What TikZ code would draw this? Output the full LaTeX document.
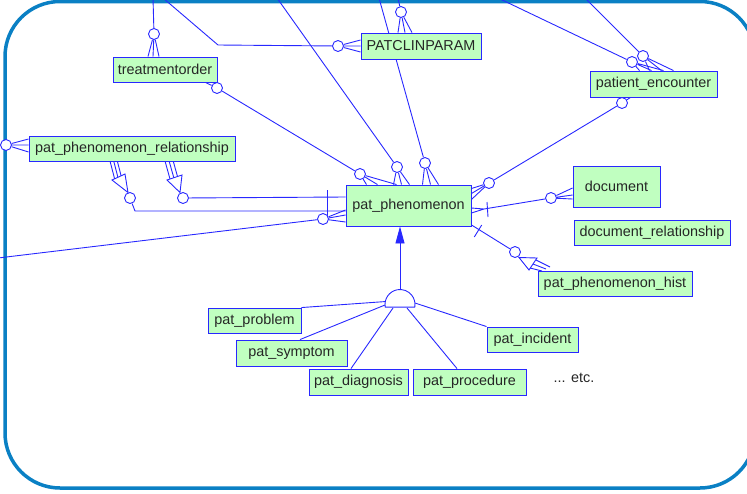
\documentclass[tikz,border=0pt]{standalone}
\usepackage{fontspec}
\setmainfont{Liberation Sans}
\usetikzlibrary{arrows.meta,backgrounds}
\definecolor{erblue}{RGB}{40,40,255}
\definecolor{erfill}{RGB}{192,255,192}
\definecolor{frameblue}{RGB}{10,128,196}
\tikzset{
  entity/.style={draw=erblue,line width=0.9pt,fill=erfill,inner sep=2pt,
    font=\fontsize{14.4}{17}\selectfont,text=black!85},
  ring/.style={circle,draw=erblue,line width=0.9pt,fill=white,inner sep=0pt,minimum size=11pt},
  conn/.style={draw=erblue,line width=0.9pt},
}
\begin{document}
\begin{tikzpicture}[x=1pt,y=-1pt]
  \useasboundingbox (0,0) rectangle (747,493);
  % entities
  \node[entity,minimum width=104pt,minimum height=25pt] (treat) at (165,69.5) {treatmentorder};
  \node[entity,minimum width=120pt,minimum height=26pt] (clin) at (421,46) {PATCLINPARAM};
  \node[entity,minimum width=127pt,minimum height=26pt] (enc) at (653.5,84) {patient\_encounter};
  \node[entity,minimum width=206pt,minimum height=25pt] (rel) at (132,148.5) {pat\_phenomenon\_relationship};
  \node[entity,minimum width=125pt,minimum height=41pt] (phen) at (408.5,205.5) {pat\_phenomenon};
  \node[entity,minimum width=87pt,minimum height=41pt] (doc) at (616.5,186.5) {document};
  \node[entity,minimum width=156pt,minimum height=25pt] (docrel) at (652,232.5) {document\_relationship};
  \node[entity,minimum width=154pt,minimum height=25pt] (hist) at (615,283.5) {pat\_phenomenon\_hist};
  \node[entity,minimum width=93pt,minimum height=25pt] (prob) at (254.5,320.5) {pat\_problem};
  \node[entity,minimum width=111pt,minimum height=26pt] (symp) at (291.5,353) {pat\_symptom};
  \node[entity,minimum width=99pt,minimum height=26pt] (diag) at (358.5,382) {pat\_diagnosis};
  \node[entity,minimum width=113pt,minimum height=26pt] (proc) at (469.5,382) {pat\_procedure};
  \node[entity,minimum width=91pt,minimum height=25pt] (inc) at (532.5,339.5) {pat\_incident};
  \node[font=\fontsize{14.4}{17}\selectfont,text=black!85] (etc) at (574,378) {... etc.};

  % optional ends
  \node[ring] (c1) at (154,34) {};
  \node[ring] (c2) at (338,46) {};
  \node[ring] (c3) at (401,12) {};
  \node[ring] (c4) at (397,167) {};
  \node[ring] (c5) at (425,163) {};
  \node[ring] (c6) at (360,174) {};
  \node[ring] (c7) at (217,88) {};
  \node[ring] (c8) at (632,62) {};
  \node[ring] (c9) at (643,56) {};
  \node[ring] (c10) at (622,103) {};
  \node[ring] (c11) at (489,183) {};
  \node[ring] (c12) at (551,198) {};
  \node[ring] (c13) at (515,252) {};
  \node[ring] (c14) at (130,198) {};
  \node[ring] (c15) at (183,198) {};
  \node[ring] (c16) at (323,219) {};
  \node[ring] (c17) at (6,145) {};

  \coordinate (t1) at (153,-2);
  \coordinate (t2) at (163,-2);
  \coordinate (b2) at (218,45);
  \coordinate (t3) at (398,-2);
  \coordinate (t4) at (277,-2);
  \coordinate (t5) at (379,-2);
  \coordinate (t6) at (498,-2);
  \coordinate (t7) at (585,-2);
  \coordinate (t8) at (-2,258);
  \coordinate (p1) at (484,209);
  \coordinate (b14) at (135,211);
  \coordinate (isa) at (400,304.5);

  \begin{pgfonlayer}{background}
    \draw[frameblue,line width=3.5pt,rounded corners=55pt] (5,1.5) rectangle (755,488);
    % relationships
    \draw[conn] (t1) -- (c1);
    \draw[conn] (c1) -- ([xshift=-17pt]treat.north) (c1) -- ([xshift=-12pt]treat.north) (c1) -- ([xshift=-6pt]treat.north);
    \draw[conn] (t2) -- (b2) -- (c2);
    \draw[conn] (c2) -- ([yshift=6pt]clin.west) (c2) -- (clin.west) (c2) -- ([yshift=-6pt]clin.west);
    \draw[conn] (t3) -- (c3);
    \draw[conn] (c3) -- ([xshift=-23pt]clin.north) (c3) -- ([xshift=-16pt]clin.north) (c3) -- ([xshift=-9pt]clin.north);
    \draw[conn] (t4) -- (c4);
    \draw[conn] (c4) -- ([xshift=-15pt]phen.north) (c4) -- ([xshift=-7pt]phen.north) (c4) -- ([xshift=1pt]phen.north);
    \draw[conn] (t5) -- (c5);
    \draw[conn] (c5) -- ([xshift=14pt]phen.north) (c5) -- ([xshift=22pt]phen.north) (c5) -- ([xshift=30pt]phen.north);
    \draw[conn] ([xshift=-12pt]treat.south east) -- (c7) -- (c6);
    \draw[conn] (c6) -- ([xshift=-42pt]phen.north) (c6) -- ([xshift=-31pt]phen.north) (c6) -- ([xshift=-12pt]phen.north);
    \draw[conn] (t6) -- (c8);
    \draw[conn] (c8) -- ([xshift=-14pt]enc.north) (c8) -- ([xshift=-2pt]enc.north) (c8) -- ([xshift=10pt]enc.north);
    \draw[conn] (t7) -- (c9);
    \draw[conn] (c9) -- ([xshift=-4pt]enc.north) (c9) -- ([xshift=8pt]enc.north) (c9) -- ([xshift=20pt]enc.north);
    \draw[conn] ([xshift=-23pt]enc.south) -- (c10) -- (c11);
    \draw[conn] (c11) -- ([yshift=17pt]phen.east) (c11) -- ([yshift=12pt]phen.east) (c11) -- ([yshift=6pt]phen.east);
    \draw[conn] ([yshift=-2.5pt]phen.east) -- (p1) ([yshift=-7.5pt]phen.east) -- (p1) -- (c12);
    \draw[conn] ([shift={(3,-7)}]p1) -- ([shift={(4,8)}]p1);
    \draw[conn] (c12) -- ([yshift=-1.5pt]doc.west) (c12) -- ([yshift=-8.5pt]doc.west) (c12) -- ([yshift=-12.5pt]doc.west);
    % history
    \draw[conn] ([yshift=1.5pt]phen.south east) -- (c13);
    \draw[conn] ([shift={(-40.7,-15)}]c13.center) -- ([shift={(-33.3,-27)}]c13.center);
    \draw[conn] ([shift={(4,5.5)}]c13.center) -- ([shift={(14,18)}]c13.center) -- ([shift={(22,6)}]c13.center) -- cycle;
    \draw[conn] ([shift={(15,16)}]c13.center) -- ([shift={(27,19)}]c13.center)
                ([shift={(18,12)}]c13.center) -- ([shift={(31,17)}]c13.center)
                ([shift={(21,8)}]c13.center) -- ([shift={(35,15)}]c13.center);
    % relationship to itself
    \draw[conn] (c14) -- (b14) -- ([yshift=-5.5pt]phen.west);
    \draw[conn] (c15) -- ([yshift=8.5pt]phen.west);
    \draw[conn] ([xshift=-18pt,yshift=15.5pt]phen.west) -- ([xshift=-18pt,yshift=-12.5pt]phen.west);
    \draw[conn] ([shift={(-2,-5.5)}]c14.center) -- ([shift={(-18,-18)}]c14.center) -- ([shift={(-5,-24)}]c14.center) -- cycle;
    \draw[conn] ([shift={(-20,-37)}]c14.center) -- ([shift={(-15.4,-19.2)}]c14.center)
                ([shift={(-16.3,-37)}]c14.center) -- ([shift={(-12.1,-20.7)}]c14.center)
                ([shift={(-12.7,-37)}]c14.center) -- ([shift={(-8.9,-22.2)}]c14.center);
    \draw[conn] ([shift={(-3,-5.5)}]c15.center) -- ([shift={(-16,-18)}]c15.center) -- ([shift={(-1,-23)}]c15.center) -- cycle;
    \draw[conn] ([shift={(-18,-37)}]c15.center) -- ([shift={(-13,-19)}]c15.center)
                ([shift={(-13.9,-37)}]c15.center) -- ([shift={(-9.2,-20.3)}]c15.center)
                ([shift={(-9.8,-37)}]c15.center) -- ([shift={(-5.5,-21.5)}]c15.center);
    \draw[conn] (t8) -- (c16);
    \draw[conn] (c16) -- ([yshift=-4.5pt]phen.west) (c16) -- ([yshift=-9.5pt]phen.west) (c16) -- ([yshift=-16.5pt]phen.west);
    \draw[conn] (c17) -- ([yshift=9.5pt]rel.west) (c17) -- ([yshift=3.5pt]rel.west) (c17) -- ([yshift=-3.5pt]rel.west);
    % subtypes
    \draw[conn,-{Triangle[length=17pt,width=9pt]}] ([shift={(0,-15)}]isa) -- ([xshift=-8.5pt]phen.south);
    \draw[conn] (prob.north east) -- ([shift={(-14,-3)}]isa);
    \draw[conn] ([xshift=8.5pt]symp.north) -- ([shift={(-15,0.5)}]isa);
    \draw[conn] ([xshift=-7.5pt]diag.north) -- ([shift={(-7,3.5)}]isa);
    \draw[conn] ([xshift=-12.5pt]proc.north) -- ([shift={(7,3.5)}]isa);
    \draw[conn] (inc.north west) -- ([shift={(15,-1.5)}]isa);
  \end{pgfonlayer}
  \draw[conn,fill=white] ([shift={(190:15pt)}]isa) arc (190:-10:15pt) -- cycle;
\end{tikzpicture}
\end{document}
